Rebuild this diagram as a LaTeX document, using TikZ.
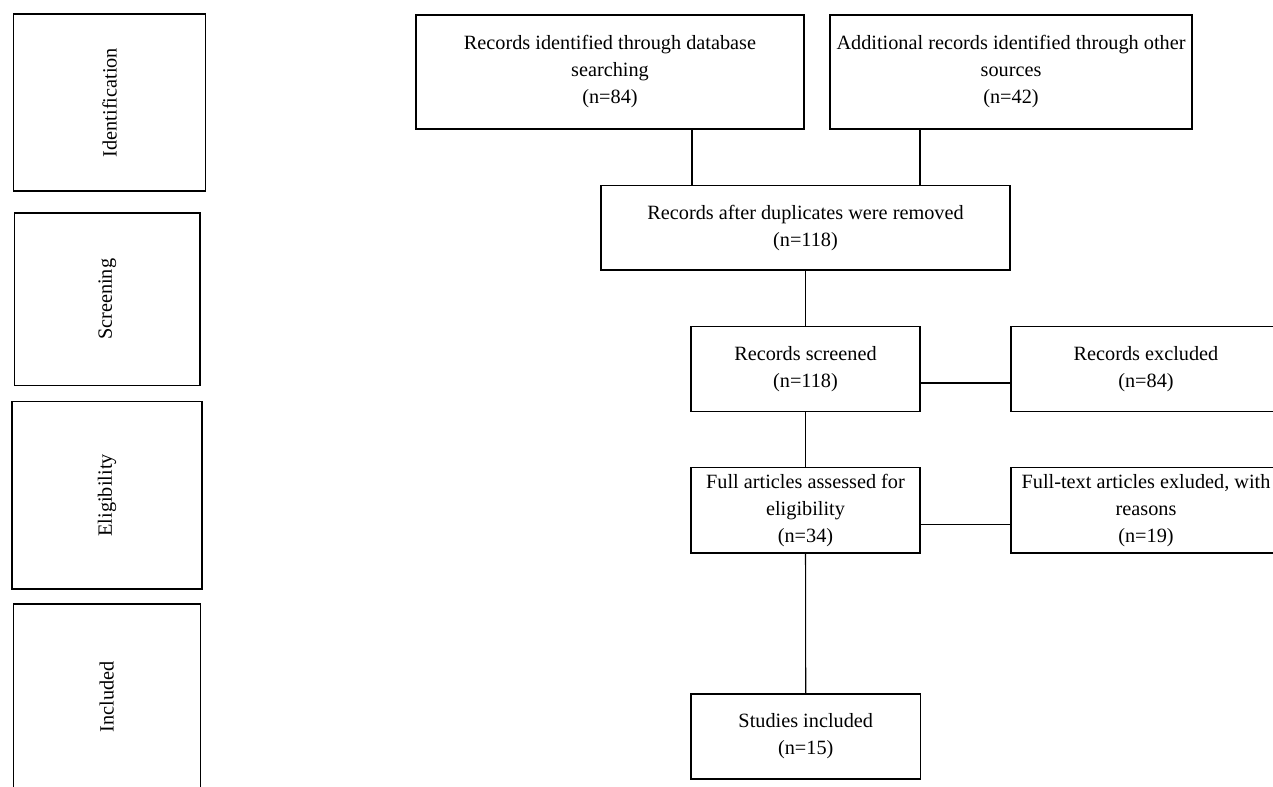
\documentclass[tikz,border=0pt]{standalone}
\usepackage{fontspec}
\setmainfont{Liberation Serif}
\newcommand{\pxu}{0.75pt}
\begin{document}
\begin{tikzpicture}[x=0.75pt,y=-0.75pt,
  box/.style={draw=black, line width=0.8pt, rectangle, inner sep=0pt, align=center,
    font=\fontsize{15.2}{20.25}\selectfont},
  phase/.style={draw=black, line width=0.8pt, rectangle, inner sep=0pt},
  phaselabel/.style={rotate=90, font=\fontsize{15.2}{20.25}\selectfont},
  conn/.style={draw=black, line width=0.8pt}]
\clip (0,0) rectangle (1273,787);
\fill[white] (0,0) rectangle (1273,787);
% phase boxes
\node[phase, minimum width=192*\pxu, minimum height=177*\pxu,
  label={[phaselabel]center:Identification}] (pid) at (109.7,102.5) {};
\node[phase, minimum width=185.3*\pxu, minimum height=172.7*\pxu,
  label={[phaselabel]center:Screening}] (psc) at (107.35,299.35) {};
\node[phase, minimum width=190*\pxu, minimum height=187.3*\pxu,
  label={[phaselabel]center:Eligibility}] (pel) at (107,495.35) {};
\node[phase, minimum width=187*\pxu, minimum height=186*\pxu,
  label={[phaselabel]center:Included}] (pin) at (106.8,697) {};
% flow boxes
\node[box, minimum width=388*\pxu, minimum height=114*\pxu] (db) at (610,72)
  {Records identified through database\\searching\\(n=84)};
\node[box, minimum width=362*\pxu, minimum height=114*\pxu] (oth) at (1011,72)
  {Additional records identified through other\\sources\\(n=42)};
\node[box, minimum width=409*\pxu, minimum height=84.5*\pxu] (dup) at (805.5,227.75)
  {Records after duplicates were removed\\(n=118)};
\node[box, minimum width=229*\pxu, minimum height=85*\pxu] (scr) at (805.5,369)
  {Records screened\\(n=118)};
\node[box, minimum width=270*\pxu, minimum height=85*\pxu] (exc) at (1146,369)
  {Records excluded\\(n=84)};
\node[box, minimum width=229*\pxu, minimum height=85.5*\pxu] (full) at (805.5,510.25)
  {Full articles assessed for\\eligibility\\(n=34)};
\node[box, minimum width=270*\pxu, minimum height=85.5*\pxu] (fte) at (1146,510.25)
  {Full-text articles exluded, with\\reasons\\(n=19)};
\node[box, minimum width=229.5*\pxu, minimum height=85*\pxu] (stud) at (805.75,736.5)
  {Studies included\\(n=15)};
% connectors
\draw[conn] ([xshift=82*\pxu]db.south) -- ([xshift=82*\pxu]db.south |- dup.north);
\draw[conn] ([xshift=-91*\pxu]oth.south) -- ([xshift=-91*\pxu]oth.south |- dup.north);
\draw[conn] (dup.south) -- (scr.north);
\draw[conn] ([yshift=-14*\pxu]scr.east) -- ([yshift=-14*\pxu]exc.west);
\draw[conn] (scr.south) -- (full.north);
\draw[conn] ([yshift=-14.5*\pxu]full.east) -- ([yshift=-14.5*\pxu]fte.west);
\draw[conn] (full.south) -- (stud.north);
\end{tikzpicture}
\end{document}
